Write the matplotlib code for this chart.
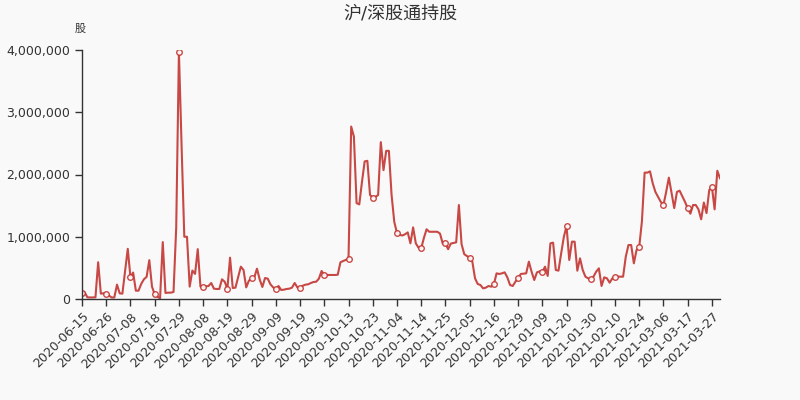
""" Recreation of the northbound holdings line chart """

import matplotlib
matplotlib.use('Agg')
import matplotlib.pyplot as plt
from matplotlib.ticker import FuncFormatter

# Tick labels: one every 9 trading records
tick_labels = [
    '2020-06-15', '2020-06-26', '2020-07-08', '2020-07-18', '2020-07-29',
    '2020-08-08', '2020-08-19', '2020-08-29', '2020-09-09', '2020-09-19',
    '2020-09-30', '2020-10-13', '2020-10-23', '2020-11-04', '2020-11-14',
    '2020-11-25', '2020-12-05', '2020-12-16', '2020-12-29', '2021-01-09',
    '2021-01-20', '2021-01-30', '2021-02-10', '2021-02-24', '2021-03-06',
    '2021-03-17', '2021-03-27',
]
label_step = 9

# Holdings (shares)
holdings = [
    90000, 107000, 27000, 25000, 25000, 27000, 591000, 86000, 91000,
    86000, 55000, 25000, 25000, 231000, 91000, 86000, 441000, 806000,
    349000, 425000, 134000, 134000, 242000, 317000, 355000, 624000, 199000,
    75000, 38000, 11000, 914000, 97000, 102000, 102000, 113000, 1150000,
    3970000, 2450000, 1000000, 1000000, 199000, 457000, 403000, 801000, 199000,
    188000, 203000, 209000, 257000, 166000, 161000, 161000, 316000, 278000,
    166000, 664000, 177000, 182000, 348000, 519000, 466000, 187000, 295000,
    332000, 348000, 487000, 316000, 193000, 337000, 327000, 236000, 187000,
    161000, 209000, 145000, 150000, 161000, 166000, 182000, 257000, 187000,
    171000, 214000, 230000, 236000, 257000, 273000, 278000, 327000, 450000,
    386000, 386000, 386000, 386000, 386000, 390000, 590000, 610000, 628000,
    643000, 2770000, 2610000, 1540000, 1520000, 1880000, 2210000, 2220000, 1670000,
    1630000, 1640000, 1670000, 2520000, 2070000, 2380000, 2380000, 1670000, 1240000,
    1060000, 1030000, 1020000, 1040000, 1070000, 894000, 1150000, 894000, 825000,
    814000, 980000, 1120000, 1080000, 1080000, 1080000, 1080000, 1050000, 890000,
    894000, 800000, 890000, 900000, 910000, 1510000, 880000, 720000, 690000,
    664000, 600000, 332000, 241000, 225000, 171000, 182000, 209000, 198000,
    236000, 412000, 402000, 412000, 428000, 348000, 225000, 209000, 278000,
    332000, 402000, 407000, 412000, 600000, 439000, 305000, 428000, 444000,
    434000, 519000, 370000, 894000, 905000, 466000, 455000, 734000, 1000000,
    1170000, 627000, 921000, 921000, 455000, 653000, 466000, 359000, 332000,
    321000, 359000, 439000, 493000, 209000, 348000, 332000, 262000, 332000,
    359000, 359000, 359000, 359000, 680000, 867000, 867000, 573000, 787000,
    841000, 1250000, 2030000, 2030000, 2050000, 1860000, 1720000, 1640000, 1560000,
    1510000, 1720000, 1950000, 1700000, 1460000, 1720000, 1740000, 1650000, 1560000,
    1460000, 1370000, 1510000, 1510000, 1440000, 1280000, 1550000, 1380000, 1750000,
    1800000, 1440000, 2060000, 1940000,
]

plt.rcParams['font.family'] = ['DejaVu Sans', 'Noto Sans CJK SC']

bg = '#f9f9f9'
line_color = '#c23531'
text_color = '#333333'

fig = plt.figure(figsize=(8, 4), dpi=100, facecolor=bg)
ax = fig.add_axes([0.1025, 0.2525, 0.7975, 0.6225], facecolor=bg)

x = list(range(len(holdings)))
ax.plot(x, holdings, color=line_color, linewidth=1.5, alpha=0.9,
        marker='o', markevery=label_step, markersize=4,
        markerfacecolor='white', markeredgecolor=line_color, markeredgewidth=1)

ax.set_xlim(0, len(holdings) - 1)
ax.set_ylim(0, 4000000)
ax.set_yticks([0, 1000000, 2000000, 3000000, 4000000])
ax.yaxis.set_major_formatter(FuncFormatter(lambda v, p: '{:,.0f}'.format(v)))

ticks = [i * label_step for i in range(len(tick_labels))]
ax.set_xticks(ticks)
ax.set_xticklabels(tick_labels, rotation=45, ha='right', rotation_mode='anchor')

for side in ['top', 'right']:
    ax.spines[side].set_visible(False)
for side in ['left', 'bottom']:
    ax.spines[side].set_color(text_color)
    ax.spines[side].set_linewidth(1)

ax.tick_params(axis='both', colors=text_color, labelsize=9, length=5, width=1)
ax.tick_params(axis='x', pad=3)

fig.text(0.5, 0.965, '沪/深股通持股', ha='center', va='center',
         fontsize=13, color=text_color)
fig.text(0.1, 0.928, '股', ha='center', va='center', fontsize=8, color=text_color)

fig.savefig('out.png', dpi=100, facecolor=bg)
